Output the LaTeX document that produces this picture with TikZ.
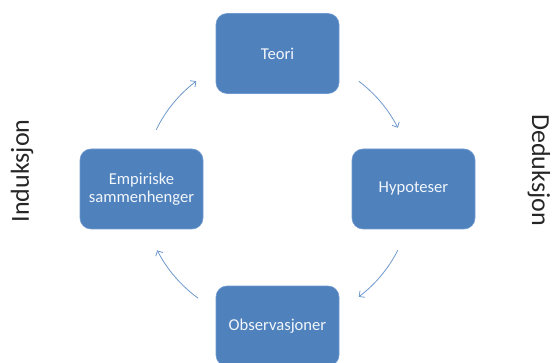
\documentclass[tikz,border=0pt]{standalone}
\usepackage{fontspec}
\setmainfont{Carlito}
\usetikzlibrary{arrows.meta,calc}
\definecolor{boxfill}{HTML}{4F81BD}
\definecolor{boxedge}{HTML}{6F9AD0}
\definecolor{arcc}{HTML}{6E98CB}
\definecolor{boxtext}{HTML}{F2F6FB}
\tikzset{
  stepbox/.style={rectangle, rounded corners=11pt, fill=boxfill, draw=boxedge, line width=0.6pt,
    minimum width=123pt, minimum height=80pt, text=boxtext, align=center,
    font=\fontsize{16.6pt}{18.5pt}\selectfont, inner sep=2pt},
  cyc/.style={draw=arcc, line width=0.8pt, -{Straight Barb[length=4pt,width=8pt]}},
  side/.style={font=\fontsize{26pt}{30pt}\selectfont, text=black!85}
}
\begin{document}
\begin{tikzpicture}[x=1pt,y=1pt]
\useasboundingbox (0,0) rectangle (552,362);
\clip (0,0) rectangle (552,362);
\node[stepbox] (teori) at (277.5,308.5) {Teori};
\node[stepbox] (hyp) at (413.5,173) {Hypoteser};
\node[stepbox] (emp) at (141.5,173) {Empiriske\\sammenhenger};
\node[stepbox] (obs) at (277.5,36) {Observasjoner};
\coordinate (c) at (277.5,173);
\coordinate (a1) at ($(c)+(53:135pt)$);
\coordinate (a2) at ($(c)+(333:135pt)$);
\coordinate (a3) at ($(c)+(234:135pt)$);
\coordinate (a4) at ($(c)+(154:135pt)$);
\draw[cyc] (a1) arc[start angle=53,end angle=27,radius=135pt];
\draw[cyc] (a2) arc[start angle=333,end angle=307,radius=135pt];
\draw[cyc] (a3) arc[start angle=234,end angle=207,radius=135pt];
\draw[cyc] (a4) arc[start angle=154,end angle=127,radius=135pt];
\node[side, rotate=90] (ind) at (22,191) {Induksjon};
\node[side, rotate=-90] (ded) at (539,192) {Deduksjon};
\end{tikzpicture}
\end{document}
